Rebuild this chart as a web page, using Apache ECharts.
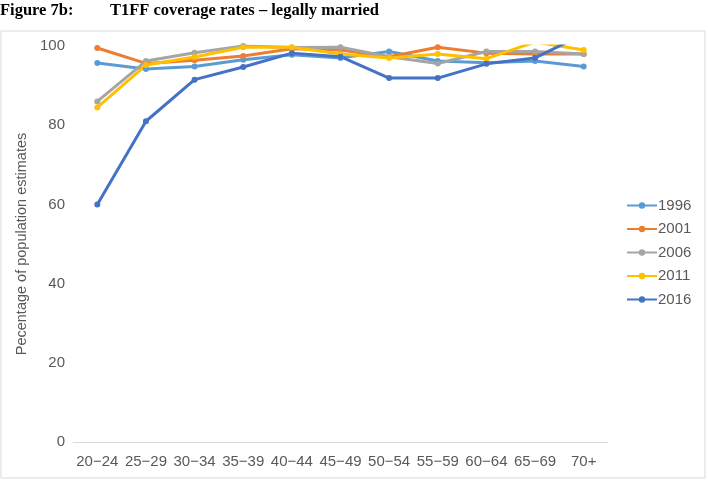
<!DOCTYPE html>
<html>
<head>
<meta charset="utf-8">
<script src="https://cdn.jsdelivr.net/npm/echarts@6/dist/echarts.min.js"></script>
<style>
  html, body { margin: 0; padding: 0; background: #fff; }
  #root { width: 708px; height: 482px; }
</style>
</head>
<body>
<div id="root"></div>
<script>
// age groups on the x axis
var ageGroups = ['20\u221224', '25\u221229', '30\u221234', '35\u221239', '40\u221244', '45\u221249',
                 '50\u221254', '55\u221259', '60\u221264', '65\u221269', '70+'];

// coverage rates (%) per census year
var y1996 = [95.7, 94.2, 94.8, 96.5, 97.8, 97.0, 98.6, 96.2, 95.8, 96.2, 94.8];
var y2001 = [99.5, 95.6, 96.4, 97.5, 99.3, 99.0, 97.3, 99.7, 98.2, 98.0, 98.0];
var y2006 = [86.0, 96.2, 98.3, 100.0, 99.6, 99.7, 97.3, 95.6, 98.6, 98.6, 98.0];
var y2011 = [84.5, 95.2, 97.2, 99.7, 99.7, 98.0, 97.0, 98.0, 96.8, 101.0, 99.0];
var y2016 = [60.0, 81.0, 91.5, 94.7, 98.2, 97.3, 91.9, 91.9, 95.5, 97.0, 103.0];

var yTicks = [0, 20, 40, 60, 80, 100];

var names = ['1996', '2001', '2006', '2011', '2016'];
var values = [y1996, y2001, y2006, y2011, y2016];
var colors = ['#5B9BD5', '#ED7D31', '#A5A5A5', '#FFC000', '#4472C4'];

var chart = echarts.init(document.getElementById('root'));

var titleFont = { fontFamily: 'Liberation Serif, Times New Roman, serif', fontWeight: 'bold', fontSize: 16.5, fill: '#000' };

chart.setOption({
  animation: false,
  textStyle: { fontFamily: 'Liberation Sans, Arial, sans-serif' },
  graphic: [{
    type: 'rect',
    shape: { x: 1, y: 31, width: 704, height: 447 },
    style: { fill: 'none', stroke: '#D9D9D9', lineWidth: 1 },
    silent: true
  }, {
    type: 'text', left: 0, top: 2,
    style: Object.assign({ text: 'Figure 7b:' }, titleFont)
  }, {
    type: 'text', left: 110, top: 2,
    style: Object.assign({ text: 'T1FF coverage rates \u2013 legally married' }, titleFont)
  }],
  legend: {
    orient: 'vertical',
    left: 621,
    top: 193,
    itemGap: 8.5,
    itemWidth: 30,
    itemHeight: 8,
    data: names,
    textStyle: { color: '#595959', fontSize: 15, padding: [0, 0, 0, -4] }
  },
  grid: { left: 73, right: 100, top: 46, bottom: 40, containLabel: false },
  xAxis: {
    type: 'category',
    data: ageGroups,
    boundaryGap: true,
    axisLine: { lineStyle: { color: '#D9D9D9', width: 1 } },
    axisTick: { show: false },
    axisLabel: { color: '#595959', fontSize: 15, margin: 12, interval: 0 }
  },
  yAxis: {
    type: 'value',
    min: 0,
    max: 100,
    interval: 20,
    name: 'Pecentage of population estimates',
    nameLocation: 'middle',
    nameGap: 41,
    nameTextStyle: { color: '#595959', fontSize: 14.5 },
    axisLine: { show: false },
    axisTick: { show: false },
    splitLine: { show: false },
    axisLabel: {
      color: '#595959', fontSize: 15, margin: 8,
      formatter: function (v) { return yTicks.indexOf(v) >= 0 ? String(v) : ''; }
    }
  },
  series: names.map(function (n, i) {
    return {
      name: n,
      type: 'line',
      data: values[i],
      clip: true,
      symbol: 'circle',
      symbolSize: 6,
      showSymbol: true,
      lineStyle: { width: 3, color: colors[i] },
      itemStyle: { color: colors[i] }
    };
  })
});
</script>
</body>
</html>
